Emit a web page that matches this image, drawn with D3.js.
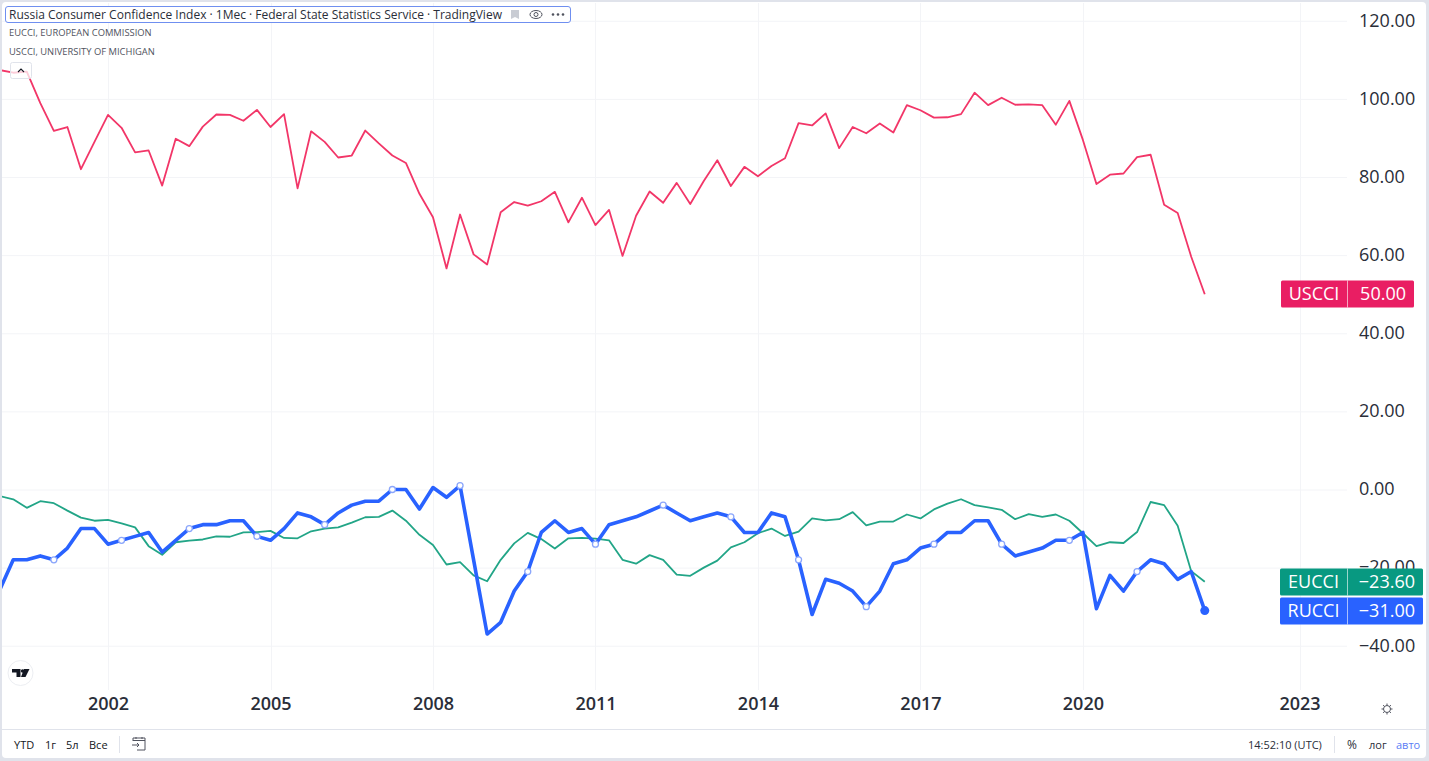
<!DOCTYPE html>
<html><head><meta charset="utf-8">
<script src="https://cdnjs.cloudflare.com/ajax/libs/d3/7.8.5/d3.min.js"></script>
<style>
html,body{margin:0;padding:0;background:#fff;overflow:hidden}
svg{display:block}
text{font-family:"Open Sans",sans-serif}
.domain{display:none}
</style></head><body><div id="c"></div>
<script>
const firstYear = 2000;
const USCCI = [107.4,106.7,107,98.9,91.8,92.8,82,89,95.9,92.6,86.3,86.8,77.8,89.8,87.9,92.9,96,95.9,94.4,97.2,92.8,96.1,77.1,91.7,89,85,85.5,91.9,88.6,85.5,83.6,75.7,69.7,56.6,70.4,60.2,57.6,71,73.6,72.7,73.8,76.2,68.4,74.7,67.7,71.6,59.8,70.1,76.3,73.4,78.5,73.1,79,84.3,77.7,82.6,80.2,82.8,84.8,93.8,93.2,96.3,87.4,92.8,91.2,93.7,91.4,98.4,97.1,95.2,95.3,96.1,101.6,98.4,100.3,98.5,98.6,98.4,93.4,99.5,89.5,78.2,80.6,80.9,85.1,85.7,72.9,70.8,59.6,50];
const EUCCI = [-1.7,-2.5,-4.7,-3,-3.5,-5.4,-7.2,-8,-7.8,-8.7,-9.7,-14.5,-16.7,-13.5,-13.1,-12.8,-12,-12.1,-11,-10.9,-10.6,-12.4,-12.5,-10.7,-10,-9.7,-8.5,-7.1,-7,-5.4,-8,-11.6,-14.2,-19.2,-18.6,-22,-23.5,-18,-13.8,-11.1,-12.7,-15.1,-12.5,-12.4,-12.6,-13,-18,-19,-16.8,-18,-21.8,-22.1,-20,-18.2,-14.8,-13.5,-11.2,-10,-11.9,-10.8,-7.4,-7.9,-7.6,-5.8,-9.2,-8.2,-8.2,-6.4,-7.4,-5.1,-3.6,-2.5,-4,-4.6,-5.2,-7.6,-6.3,-7,-6.4,-8,-11.2,-14.5,-13.5,-13.7,-10.9,-3.2,-4,-9.3,-20.9,-23.6];
const RUCCI = [-25.7,-18,-18,-17,-18,-15,-10,-10,-14,-13,-12,-11,-16,-13,-10,-9,-9,-8,-8,-12,-13,-10,-6,-7,-9,-6,-4,-3,-3,0,0,-5,0.5,-2,1,-18,-37,-34,-26,-21,-11,-8,-11,-10,-14,-9,-8,-7,-5.5,-4,-6,-8,-7,-6,-7,-11,-11,-6,-7,-18,-32,-23,-24,-26,-30,-26,-19,-18,-15,-14,-11,-11,-8,-8,-14,-17,-16,-15,-13,-13,-11,-30.5,-22,-26,-21,-18,-19,-23,-21,-31];
const yTicks = [120,100,80,60,40,20,0,-20,-40];
const xTickQuarters = [8,20,32,44,56,68,80,96];
const xTickLabels = ["2002","2005","2008","2011","2014","2017","2020","2023"];
const titleText = "Russia Consumer Confidence Index · 1Мес · Federal State Statistics Service · TradingView";
const legendLines = ["EUCCI, EUROPEAN COMMISSION","USCCI, UNIVERSITY OF MICHIGAN"];
const rangeButtons = ["YTD","1г","5л","Все"];
const badgeRows = [
  {name:"USCCI",label:"50.00",value:50,color:"#e91e63",left:1281,right:1414},
  {name:"EUCCI",label:"−23.60",value:-23.6,color:"#089981",left:1280,right:1423},
  {name:"RUCCI",label:"−31.00",value:-31,color:"#2962ff",left:1280,right:1423}
];

const W=1429,H=761;
const svg=d3.select("#c").append("svg").attr("width",W).attr("height",H);
svg.append("rect").attr("width",W).attr("height",H).attr("fill","#e0e3eb");
svg.append("rect").attr("x",2).attr("y",2).attr("width",W-5).attr("height",H-5).attr("rx",4).attr("fill","#fff");

const plotL=2, plotR=1347, plotT=3, plotB=690;
const x=d3.scaleLinear().domain([0,1]).range([-0.3,13.24]);
const y=d3.scaleLinear().domain([0,100]).range([489.5,98.9]);

svg.append("defs").append("clipPath").attr("id","clip").append("rect")
  .attr("x",plotL).attr("y",plotT).attr("width",plotR-plotL).attr("height",plotB-plotT);

// grid
const grid=svg.append("g");
grid.selectAll("line.h").data(yTicks).join("line").attr("class","h")
  .attr("x1",plotL).attr("x2",plotR).attr("y1",d=>y(d)+.5).attr("y2",d=>y(d)+.5)
  .attr("stroke","#f3f4f7");
grid.selectAll("line.v").data(xTickQuarters).join("line").attr("class","v")
  .attr("y1",plotT).attr("y2",plotB).attr("x1",d=>Math.round(x(d))+.5).attr("x2",d=>Math.round(x(d))+.5)
  .attr("stroke","#f3f4f7");

// axes
const yAxis=d3.axisRight(y).tickValues(yTicks).tickSize(0).tickPadding(0)
  .tickFormat(d=>(d<0?"−":"")+Math.abs(d).toFixed(2));
svg.append("g").attr("transform","translate(1359,-1)").call(yAxis)
  .call(g=>g.selectAll("text").attr("font-size",18).attr("fill","#2a2e39").attr("font-family","Open Sans").attr("dy","0.35em"));
const xAxis=d3.axisBottom(x).tickValues(xTickQuarters).tickSize(0).tickPadding(0)
  .tickFormat((d,i)=>xTickLabels[i]);
svg.append("g").attr("transform","translate(0,697)").call(xAxis)
  .call(g=>g.selectAll("text").attr("font-size",18).attr("font-weight",600).attr("fill","#2a2e39").attr("font-family","Open Sans"));

// lines
const line=d3.line().x((d,i)=>x(i)).y(d=>y(d));
const plot=svg.append("g").attr("clip-path","url(#clip)");
plot.append("path").datum(USCCI).attr("d",line).attr("fill","none").attr("stroke","#f23668").attr("stroke-width",1.8).attr("stroke-linejoin","round");
plot.append("path").datum(EUCCI).attr("d",line).attr("fill","none").attr("stroke","#22a587").attr("stroke-width",1.8).attr("stroke-linejoin","round");
plot.append("path").datum(RUCCI).attr("d",line).attr("fill","none").attr("stroke","#2962ff").attr("stroke-width",3.6).attr("stroke-linejoin","round");
plot.selectAll("circle.m").data(RUCCI.map((v,i)=>[v,i]).filter(d=>d[1]%5===4&&d[1]<RUCCI.length-1)).join("circle").attr("class","m")
  .attr("cx",d=>x(d[1])).attr("cy",d=>y(d[0])).attr("r",3).attr("fill","#fff").attr("stroke","#8ba6fb").attr("stroke-width",1.3);
plot.append("circle").attr("cx",x(RUCCI.length-1)).attr("cy",y(RUCCI[RUCCI.length-1])).attr("r",4.5).attr("fill","#2962ff");

// badges
const bh=27, div=1347;
const bg=svg.append("g");
badgeRows.forEach(b=>{
  const top=Math.round(y(b.value))-13.5;
  bg.append("rect").attr("x",b.left).attr("y",top).attr("width",b.right-b.left).attr("height",bh).attr("rx",1.5).attr("fill",b.color);
  bg.append("line").attr("x1",div+.5).attr("x2",div+.5).attr("y1",top).attr("y2",top+bh).attr("stroke","#fff").attr("stroke-opacity",.6);
  bg.append("text").attr("x",(b.left+div)/2).attr("y",top+bh/2).attr("dy","0.35em").attr("text-anchor","middle").attr("fill","#fff").attr("font-size",18).text(b.name);
  bg.append("text").attr("x",b.right-8).attr("y",top+bh/2).attr("dy","0.35em").attr("text-anchor","end").attr("fill","#fff").attr("font-size",18).text(b.label);
});

// legend
svg.append("rect").attr("x",5.5).attr("y",6.5).attr("width",565).attr("height",16).attr("rx",2.5).attr("fill","#fff").attr("stroke","#6f8ff0").attr("stroke-width",1);
svg.append("text").attr("x",9).attr("y",19).attr("font-size",12).attr("fill","#2a2e39").text(titleText);
svg.append("path").attr("d","M511 10h8v9l-4-2-4 2z").attr("fill","#c9ccd3");
svg.append("g").attr("fill","none").attr("stroke","#50535e").attr("stroke-width",1).call(g=>{
  g.append("ellipse").attr("cx",536).attr("cy",14.5).attr("rx",6).attr("ry",4);
  g.append("circle").attr("cx",536).attr("cy",14.5).attr("r",2);
});
svg.selectAll("circle.dot").data([553,558,563]).join("circle").attr("class","dot").attr("cx",d=>d).attr("cy",14.5).attr("r",1.3).attr("fill","#50535e");
svg.selectAll("text.sub").data(legendLines).join("text").attr("class","sub").attr("x",9)
  .attr("y",(d,i)=>36+i*19).attr("font-size",9.4).attr("fill","#50535e").text(d=>d);

// collapse button
svg.append("rect").attr("x",10.5).attr("y",62.5).attr("width",21).attr("height",16).attr("rx",2).attr("fill","#fff").attr("fill-opacity",.75).attr("stroke","#e0e3eb");
svg.append("path").attr("d","M18 72l3-3 3 3").attr("fill","none").attr("stroke","#131722").attr("stroke-width",1.1);

// logo
svg.append("circle").attr("cx",20.5).attr("cy",673).attr("r",12.5).attr("fill","#fff").attr("stroke","#eceef2");
svg.append("path").attr("d","M12 669h8.500v8h-4v-4.500h-4.500zM24 669h5.500l-4 8h-4.500z").attr("fill","#131722");
svg.append("circle").attr("cx",22.6).attr("cy",671).attr("r",1.8).attr("fill","#131722");

// gear
const gear=svg.append("g").attr("fill","none").attr("stroke","#50535e").attr("stroke-width",1);
gear.append("circle").attr("cx",1387).attr("cy",709).attr("r",3.5);
d3.range(8).forEach(k=>{
  const a=k*Math.PI/4;
  gear.append("line").attr("x1",1387+3.5*Math.cos(a)).attr("y1",709+3.5*Math.sin(a)).attr("x2",1387+5.5*Math.cos(a)).attr("y2",709+5.5*Math.sin(a));
});

// bottom bar
svg.append("line").attr("x1",2).attr("x2",W-3).attr("y1",729.5).attr("y2",729.5).attr("stroke","#e0e3eb");
const rangeX=[14,45,66,89];
svg.selectAll("text.rb").data(rangeButtons).join("text").attr("class","rb").attr("x",(d,i)=>rangeX[i]).attr("y",749)
  .attr("font-size",11).attr("fill","#131722").text(d=>d);
svg.append("line").attr("x1",119.5).attr("x2",119.5).attr("y1",736).attr("y2",753).attr("stroke","#e0e3eb");
svg.append("path").attr("d","M133 741v-3h12v12h-8M133 740.500h12M136 737v2M142 737v2M132 745h7m-2-2l2 2-2 2").attr("fill","none").attr("stroke","#50535e");
svg.append("text").attr("x",1248).attr("y",749).attr("font-size",11).attr("fill","#2a2e39").text("14:52:10 (UTC)");
svg.append("line").attr("x1",1334.5).attr("x2",1334.5).attr("y1",736).attr("y2",753).attr("stroke","#e0e3eb");
svg.append("text").attr("x",1347).attr("y",749).attr("font-size",12).attr("fill","#2a2e39").text("%");
svg.append("text").attr("x",1369).attr("y",749).attr("font-size",11).attr("fill","#2a2e39").text("лог");
svg.append("text").attr("x",1396).attr("y",749).attr("font-size",11).attr("fill","#5b7df5").text("авто");
</script></body></html>
